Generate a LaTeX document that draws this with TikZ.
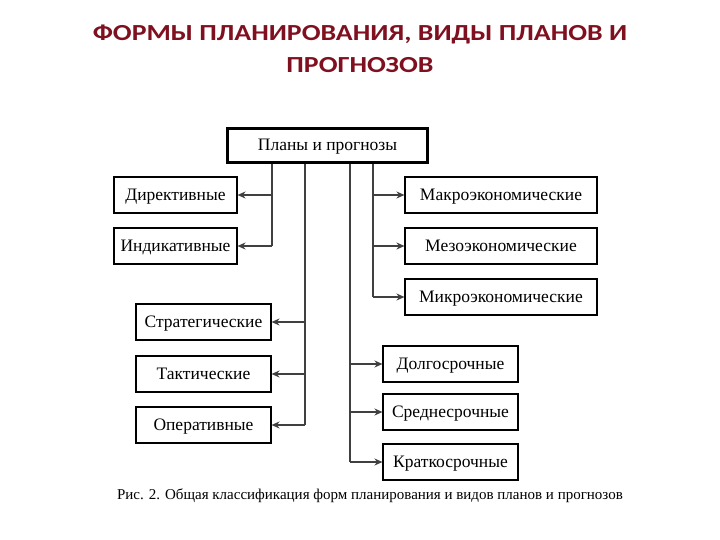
\documentclass[tikz,border=0pt]{standalone}
\usepackage{fontspec}
\setmainfont{Liberation Serif}
\newfontfamily\titlefont{Carlito}
\usepackage{xcolor}
\usetikzlibrary{arrows.meta,positioning}

\definecolor{titlered}{HTML}{7F1020}
\definecolor{linegray}{HTML}{404040}

\tikzset{
  plan/.style={draw=black, line width=1.1pt, minimum height=36pt, inner sep=0pt,
    text depth=0.1em, font=\fontsize{17.5}{20}\selectfont},
  topplan/.style={plan, line width=2.4pt, minimum width=200pt, minimum height=34pt},
  link/.style={draw=linegray, line width=1.1pt},
  arr/.style={link, -{Stealth[length=8pt,width=7pt]}}
}

\begin{document}
\begin{tikzpicture}[x=1pt,y=-1pt]
  \useasboundingbox (0,0) rectangle (720,540);

  % title
  \node[font=\titlefont\bfseries\fontsize{23}{32}\selectfont, text=titlered, align=center,
        xscale=1.21, transform shape] (title) at (360,49)
    {ФОРМЫ ПЛАНИРОВАНИЯ, ВИДЫ ПЛАНОВ И\\ПРОГНОЗОВ};

  % root
  \node[topplan] (root) at (327.5,145.5) {Планы и прогнозы};

  % forms
  \node[plan, minimum width=123pt] (dir) at (175.5,195) {Директивные};
  \node[plan, minimum width=123pt] (ind) at (175.5,246) {Индикативные};

  % levels
  \node[plan, minimum width=192pt] (macro) at (501,195) {Макроэкономические};
  \node[plan, minimum width=192pt] (meso) at (501,246) {Мезоэкономические};
  \node[plan, minimum width=192pt] (micro) at (501,297) {Микроэкономические};

  % content
  \node[plan, minimum width=135pt] (strat) at (203.5,322) {Стратегические};
  \node[plan, minimum width=135pt] (takt) at (203.5,374) {Тактические};
  \node[plan, minimum width=135pt] (oper) at (203.5,425) {Оперативные};

  % terms
  \node[plan, minimum width=135pt] (long) at (450.5,364) {Долгосрочные};
  \node[plan, minimum width=135pt] (mid) at (450.5,412) {Среднесрочные};
  \node[plan, minimum width=135pt] (short) at (450.5,462) {Краткосрочные};

  % trunks
  \coordinate (t1) at (root.south -| 272,0);
  \coordinate (t2) at (root.south -| 305,0);
  \coordinate (t3) at (root.south -| 350,0);
  \coordinate (t4) at (root.south -| 373,0);
  \draw[link] (t1) -- (t1 |- ind.east);
  \draw[link] (t2) -- (t2 |- oper.east);
  \draw[link] (t3) -- (t3 |- short.west);
  \draw[link] (t4) -- (t4 |- micro.west);

  \foreach \n in {dir,ind} \draw[arr] (t1 |- \n.east) -- (\n.east);
  \foreach \n in {strat,takt,oper} \draw[arr] (t2 |- \n.east) -- (\n.east);
  \foreach \n in {long,mid,short} \draw[arr] (t3 |- \n.west) -- (\n.west);
  \foreach \n in {macro,meso,micro} \draw[arr] (t4 |- \n.west) -- (\n.west);

  % caption
  \node[font=\fontsize{15}{17}\selectfont] (caption) at (370,496)
    {Рис. 2. Общая классификация форм планирования и видов планов и прогнозов};
\end{tikzpicture}
\end{document}
